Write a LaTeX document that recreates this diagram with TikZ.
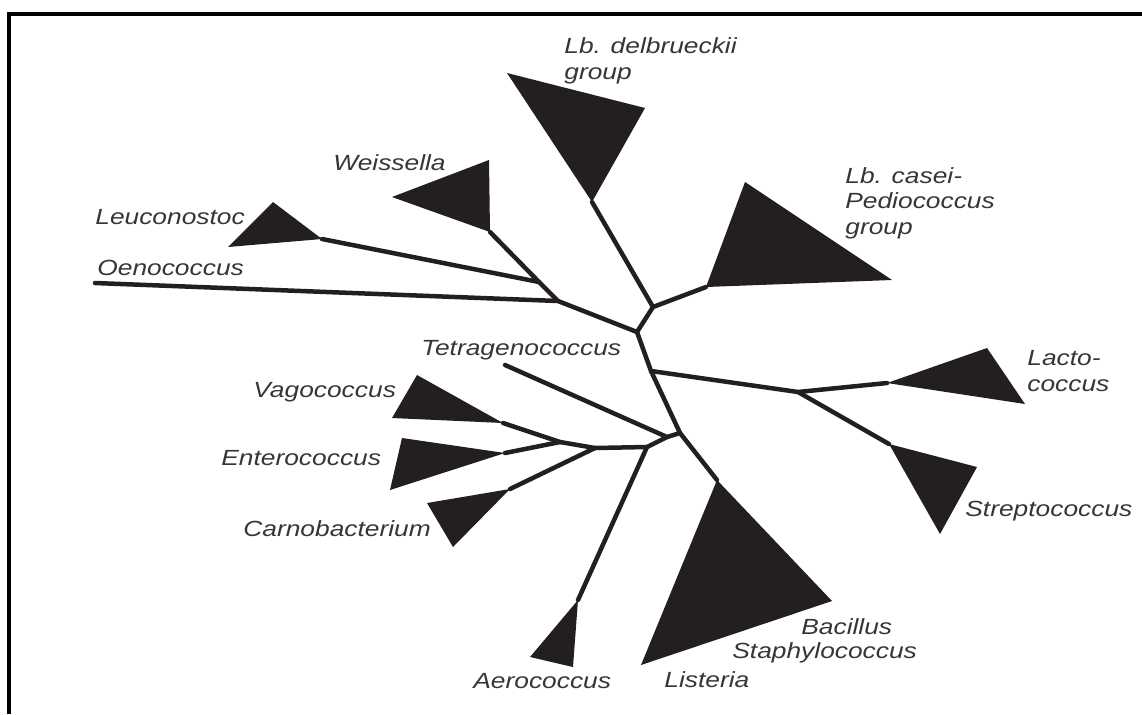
\documentclass[tikz,border=0pt]{standalone}
\usepackage{fontspec}
\newfontfamily\labelfont[FakeStretch=1.2]{Liberation Sans}
\definecolor{ink}{HTML}{231F20}
\definecolor{labelgray}{HTML}{363636}

\begin{document}
\begin{tikzpicture}[
  x=0.02cm, y=-0.02cm,
  branch/.style={draw=ink, line width=0.09cm, line cap=round, line join=round},
  clade/.style={fill=ink},
  taxon/.style={font=\labelfont\itshape\fontsize{12.5}{14.5}\selectfont, text=labelgray, inner sep=0pt, anchor=west, align=left}
]
\useasboundingbox (0,0) rectangle (1142,714);
\draw[line width=0.08cm, line join=miter] (9,714) -- (9,14) -- (1142,14);

% junctions of the tree
\coordinate (jA) at (653,307);
\coordinate (jB) at (637,332);
\coordinate (jC) at (651,371);
\coordinate (jD) at (680,433);
\coordinate (jE) at (667,437);
\coordinate (jW) at (558,301);
\coordinate (jL) at (539,282);
\coordinate (jLa) at (798,392);
\coordinate (jAe) at (647,447);
\coordinate (jCa) at (595,448);
\coordinate (jVE) at (560,442);

% clade tips and triangle corners
\coordinate (del) at (592,202); \coordinate (del1) at (507,73);  \coordinate (del2) at (645,108);
\coordinate (cas) at (706,287); \coordinate (cas1) at (745,182); \coordinate (cas2) at (892,280);
\coordinate (wei) at (490,232); \coordinate (wei1) at (392,197); \coordinate (wei2) at (489,160);
\coordinate (leu) at (322,239); \coordinate (leu1) at (273,202); \coordinate (leu2) at (228,247);
\coordinate (oen) at (95,283);
\coordinate (lac) at (887,383); \coordinate (lac1) at (987,348); \coordinate (lac2) at (1025,404);
\coordinate (str) at (889,444); \coordinate (str1) at (977,467); \coordinate (str2) at (940,534);
\coordinate (lis) at (717,480); \coordinate (lis1) at (832,601); \coordinate (lis2) at (641,665);
\coordinate (aer) at (578,600); \coordinate (aer1) at (573,667); \coordinate (aer2) at (530,657);
\coordinate (car) at (510,489); \coordinate (car1) at (453,547); \coordinate (car2) at (427,503);
\coordinate (ent) at (505,453); \coordinate (ent1) at (390,490); \coordinate (ent2) at (402,438);
\coordinate (vag) at (503,423); \coordinate (vag1) at (392,418); \coordinate (vag2) at (417,375);
\coordinate (tet) at (505,365);

\foreach \c in {del,cas,wei,leu,lac,str,lis,aer,car,ent,vag}
  \fill[clade] (\c) -- (\c1) -- (\c2) -- cycle;

\draw[branch] (del) -- (jA) -- (jB) -- (jC) -- (jD) -- (lis);
\draw[branch] (jA) -- (cas);
\draw[branch] (jB) -- (jW) -- (oen);
\draw[branch] (jW) -- (jL) -- (wei);
\draw[branch] (jL) -- (leu);
\draw[branch] (jC) -- (jLa) -- (lac);
\draw[branch] (jLa) -- (str);
\draw[branch] (jD) -- (jE) -- (tet);
\draw[branch] (jE) -- (jAe) -- (jCa) -- (jVE) -- (vag);
\draw[branch] (jVE) -- (ent);
\draw[branch] (jCa) -- (car);
\draw[branch] (jAe) -- (aer);

\node[taxon] (lDel) at (564,61) {Lb. delbrueckii\\group};
\node[taxon] (lCas) at (845,203) {Lb. casei-\\Pediococcus\\group};
\node[taxon] (lWei) at (333,163) {Weissella};
\node[taxon] (lLeu) at (95,217) {Leuconostoc};
\node[taxon] (lOen) at (97,268) {Oenococcus};
\node[taxon] (lTet) at (421,350) {Tetragenococcus};
\node[taxon] (lVag) at (253,392) {Vagococcus};
\node[taxon] (lEnt) at (221,458) {Enterococcus};
\node[taxon] (lCar) at (243,529) {Carnobacterium};
\node[taxon] (lAer) at (473,681) {Aerococcus};
\node[taxon] (lLis) at (664,680) {Listeria};
\node[taxon] (lSta) at (732,653) {Staphylococcus};
\node[taxon] (lBac) at (801,627) {Bacillus};
\node[taxon] (lLac) at (1027,371) {Lacto-\\coccus};
\node[taxon] (lStr) at (965,511) {Streptococcus};
\end{tikzpicture}
\end{document}
